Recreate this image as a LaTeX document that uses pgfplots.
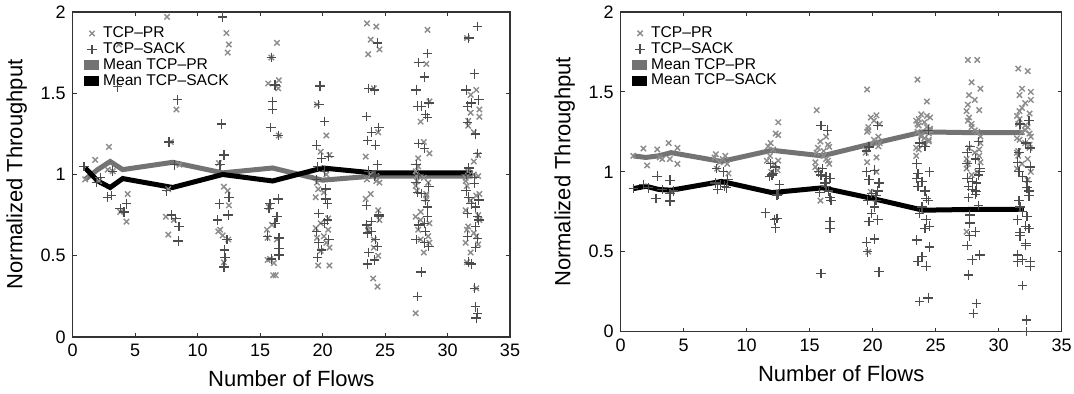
\documentclass[border=0pt]{standalone}
\usepackage{pgfplots}
\pgfplotsset{compat=1.18}
\usepackage{fontspec}
\setmainfont{Liberation Sans}
\begin{document}
\begin{tikzpicture}
\useasboundingbox (0,0) rectangle (537pt,197pt);
\pgfplotsset{
 myaxis/.style={
  scale only axis, anchor=south west,
  xmin=0,xmax=35,ymin=0,ymax=2,
  xtick={0,5,...,35}, ytick={0,0.5,1,1.5,2},
  tick align=inside, major tick length=2pt,
  axis line style={black!80, line width=0.6pt},
  tick style={black!80, line width=0.5pt},
  ticklabel style={font=\fontsize{9}{10}\selectfont},
  /pgf/number format/assume math mode=true,
  xlabel={Number of Flows}, ylabel={Normalized Throughput},
  label style={font=\fontsize{11}{12}\selectfont},
  legend style={at={(0.02,0.975)}, anchor=north west, draw=none, fill=none, font=\fontsize{7.8}{8}\selectfont, row sep=-3pt, inner sep=1pt},
  legend cell align=left,
 },
 prmark/.style={only marks, mark=x, mark size=1.9pt, black!45, mark options={line width=0.7pt},
   legend image code/.code={\draw[##1] plot coordinates {(0.1cm,0cm)};}},
 sackmark/.style={only marks, mark=+, mark size=2.4pt, black!70, mark options={line width=0.65pt},
   legend image code/.code={\draw[##1] plot coordinates {(0.1cm,0cm)};}},
 prline/.style={black!55, line width=2.5pt, no marks,
   legend image code/.code={\fill[black!55] (0cm,-1.3pt) rectangle (0.18cm,1.3pt);}},
 sackline/.style={black, line width=2.5pt, no marks,
   legend image code/.code={\fill[black] (0cm,-1.3pt) rectangle (0.18cm,1.3pt);}},
}
% ---------------- Left panel ----------------
\begin{axis}[myaxis, at={(36.35pt,28.5pt)}, width=218.65pt, height=162.5pt]
\addplot[prmark] coordinates {
(1.0,0.97)
(1.8,1.09)(2.1,0.96)
(2.9,1.17)(3.2,1.02)(2.8,1.03)
(3.7,1.80)(4.4,0.88)(3.8,0.77)(4.3,0.71)
(7.55,1.97)(8.30,1.40)(7.85,1.20)(8.55,1.06)(7.65,0.91)(8.10,0.72)(7.65,0.63)(7.45,0.74)
(12.3,1.87)(12.5,1.80)(12.4,1.75)(11.7,1.07)(12.1,0.925)(12.4,0.90)(12.5,0.81)(11.8,0.66)(12.45,0.60)(12.1,0.46)(11.65,0.65)(12.0,0.625)
(16.35,1.81)(15.9,1.72)(16.5,1.58)(15.65,1.56)(16.45,1.53)(16.5,1.24)(15.7,0.80)(15.95,0.69)(15.6,0.61)(16.35,0.60)(15.6,0.474)(15.8,0.48)(16.1,0.455)(16.05,0.38)(16.25,0.38)(15.55,0.66)
(19.55,1.43)(20.30,1.24)(19.85,1.14)(20.55,1.12)(19.65,0.91)(20.10,0.89)(20.45,0.73)(19.45,0.67)(19.55,0.61)(20.30,0.58)(19.85,0.53)(20.55,0.44)(19.65,0.44)(20.10,0.62)(20.45,0.66)(19.45,0.86)(19.55,0.95)(20.30,1.00)(19.85,0.70)(20.55,0.55)
(23.55,1.93)(24.30,1.91)(23.85,1.83)(24.55,1.77)(23.65,1.74)(24.10,1.53)(24.45,1.26)(23.45,1.11)(23.55,0.97)(24.30,0.96)(23.85,0.88)(24.55,0.72)(23.65,0.68)(24.10,0.60)(24.45,0.50)(24.05,0.36)(24.40,0.31)(24.30,0.99)(23.85,1.00)(24.55,0.95)(23.65,0.66)(24.10,0.55)(24.45,0.78)(23.45,0.85)
(28.40,1.89)(28.30,1.68)(27.85,1.325)(28.55,1.13)(27.65,1.10)(28.10,0.98)(28.45,0.95)(27.45,0.93)(27.55,0.90)(28.30,0.87)(27.85,0.77)(28.55,0.70)(27.65,0.66)(28.10,0.52)(27.45,0.146)(27.45,1.02)(27.55,0.99)(28.30,0.85)(27.85,0.60)(28.55,0.58)(27.65,1.05)(28.10,1.20)(28.45,0.62)(27.45,0.74)(27.55,0.96)(28.30,0.88)(27.85,0.72)(28.55,1.45)
(31.55,1.84)(32.30,1.52)(31.85,1.49)(32.55,1.355)(31.65,1.33)(32.10,1.26)(32.45,1.12)(31.45,0.96)(31.55,0.93)(32.30,0.87)(31.85,0.84)(32.55,0.72)(31.65,0.68)(32.10,0.64)(32.45,0.57)(31.45,0.58)(31.55,0.46)(32.30,0.30)(31.85,1.38)(32.55,1.40)(31.65,1.02)(32.10,1.00)(32.45,0.99)(31.45,0.78)(31.55,0.66)(32.30,0.62)(31.85,0.52)(32.55,0.88)(31.65,1.30)(32.10,1.08)(32.45,0.75)(31.45,0.98)
};
\addlegendentry{TCP--PR}
\addplot[sackmark] coordinates {
(0.9,1.05)
(2.2,0.98)(1.9,0.95)
(3.1,0.87)(2.8,0.86)(3.2,1.02)
(3.6,1.54)(4.3,0.82)(3.8,0.79)(4.1,0.77)
(8.40,1.46)(7.70,1.20)(8.15,1.06)(7.50,0.90)(8.50,0.68)(7.90,0.75)(8.45,0.59)(8.25,0.73)
(12.0,1.97)(11.9,1.31)(12.1,1.12)(11.8,1.06)(11.75,0.82)(12.5,0.86)(12.45,0.75)(11.6,0.72)(12.35,0.60)(12.15,0.535)(12.2,0.49)(12.1,0.43)
(15.9,1.72)(16.2,1.55)(16.0,1.45)(16.0,1.40)(15.85,1.29)(16.45,1.24)(16.45,0.85)(15.8,0.82)(16.35,0.74)(16.5,0.61)(15.6,0.62)(16.5,0.546)(16.5,0.505)(15.9,0.48)(16.2,0.70)(15.7,0.79)
(19.80,1.545)(19.70,1.43)(20.15,1.325)(19.50,1.18)(20.50,1.11)(19.90,1.10)(19.60,1.05)(20.25,0.91)(20.40,0.82)(19.70,0.76)(20.15,0.70)(19.50,0.65)(20.50,0.60)(19.90,0.535)(19.60,0.49)(20.25,0.85)(20.40,0.72)(19.70,0.58)(20.15,1.02)(19.50,0.97)
(24.40,1.81)(23.70,1.53)(24.15,1.52)(23.50,1.356)(24.50,1.29)(23.90,1.26)(23.60,1.21)(24.25,1.18)(24.40,1.06)(23.70,1.02)(24.15,0.99)(23.50,0.81)(24.50,0.74)(23.90,0.71)(23.60,0.64)(24.25,0.60)(24.40,0.556)(23.70,0.52)(24.15,0.474)(23.50,0.69)(24.50,0.75)(23.90,0.65)(23.60,0.45)(24.25,1.00)
(28.40,1.745)(27.70,1.69)(28.15,1.60)(27.50,1.52)(28.50,1.44)(27.90,1.42)(27.60,1.42)(28.25,1.37)(28.40,1.35)(27.70,1.19)(28.15,1.16)(27.50,1.06)(28.50,0.925)(27.90,0.884)(27.60,0.89)(28.25,0.84)(28.40,0.74)(27.70,0.69)(28.15,0.70)(27.50,0.60)(28.50,0.556)(27.90,0.40)(27.60,0.25)(28.25,0.65)(28.40,0.80)(27.70,1.00)(28.15,0.58)(27.50,0.95)
(32.40,1.91)(31.70,1.84)(32.15,1.62)(31.50,1.52)(32.50,1.46)(31.90,1.44)(31.60,1.42)(32.25,1.25)(32.40,1.13)(31.70,1.04)(32.15,0.946)(31.50,0.90)(32.50,0.843)(31.90,0.82)(31.60,0.76)(32.25,0.68)(32.40,0.607)(31.70,0.46)(32.15,0.30)(32.25,0.186)(32.40,0.146)(32.30,0.116)(31.60,0.62)(32.25,0.55)(32.40,0.74)(31.70,0.86)(32.15,0.98)(31.50,1.00)(32.50,0.72)(31.90,0.45)(31.60,1.32)(32.25,0.80)
};
\addlegendentry{TCP--SACK}
\addplot[prline] coordinates {(1,0.97)(2,1.03)(3,1.08)(4,1.03)(8,1.075)(12,1.01)(16,1.04)(20,0.965)(24,0.99)(28,0.99)(32,0.99)};
\addlegendentry{Mean TCP--PR}
\addplot[sackline] coordinates {(1,1.04)(2,0.96)(3,0.92)(4,0.975)(8,0.92)(12,1.0)(16,0.96)(20,1.04)(24,1.01)(28,1.01)(32,1.01)};
\addlegendentry{Mean TCP--SACK}
\end{axis}
% ---------------- Right panel ----------------
\begin{axis}[myaxis, at={(310.35pt,31.15pt)}, width=220.5pt, height=159.85pt]
\addplot[prmark] coordinates {
(1.0,1.10)
(1.8,1.146)(2.1,1.04)
(2.9,1.14)(3.3,1.08)(3.1,1.09)
(3.8,1.18)(4.5,1.15)(3.9,1.08)(4.5,1.05)
(7.55,1.11)(8.30,1.10)(7.85,1.06)(8.55,0.99)(7.65,1.02)(8.10,1.08)(8.45,1.05)(7.45,1.09)
(12.5,1.31)(12.5,1.23)(12.3,1.24)(11.9,1.18)(12.1,1.14)(11.6,1.07)(12.5,1.07)(11.85,1.10)(12.45,1.01)(11.95,1.00)(12.2,1.05)(11.7,1.16)
(15.55,1.386)(16.30,1.22)(15.85,1.19)(16.55,1.156)(15.65,1.15)(16.10,1.10)(16.45,1.07)(15.45,1.03)(15.55,1.12)(16.30,1.08)(15.85,0.82)(16.55,1.05)(15.65,1.01)(16.10,1.13)(16.45,1.17)(15.45,1.06)
(19.55,1.515)(20.30,1.354)(19.85,1.34)(20.55,1.30)(19.65,1.26)(20.10,1.20)(20.45,1.16)(19.45,1.12)(19.55,1.06)(20.30,1.00)(19.85,0.875)(19.65,0.50)(19.65,1.28)(20.10,1.32)(20.45,1.22)(19.45,1.14)(19.55,1.25)(20.30,1.09)(19.85,1.17)(20.55,1.18)
(23.55,1.577)(24.30,1.44)(23.85,1.36)(24.55,1.34)(23.65,1.29)(24.10,1.31)(24.45,1.20)(23.45,1.10)(23.55,1.25)(24.30,1.28)(23.85,1.22)(24.55,1.27)(23.65,1.33)(24.10,1.18)(24.45,1.24)(23.45,1.15)(23.55,1.30)(24.30,1.35)(23.85,1.23)(24.55,1.26)(23.65,1.14)(24.10,1.21)(24.45,1.19)(23.45,1.32)
(27.55,1.70)(28.30,1.70)(27.85,1.56)(28.55,1.52)(27.65,1.48)(28.10,1.45)(28.45,1.386)(27.45,1.38)(27.55,1.32)(28.30,1.25)(27.85,1.30)(28.55,1.22)(27.65,1.15)(28.10,1.12)(28.45,1.10)(27.45,1.08)(27.55,1.05)(27.45,0.625)(27.85,1.28)(28.55,1.18)(27.65,1.34)(28.10,1.26)(28.45,1.14)(27.45,1.02)(27.55,1.42)(28.30,1.00)(27.85,0.98)(28.55,1.06)
(31.55,1.646)(32.30,1.63)(31.85,1.52)(32.55,1.50)(31.65,1.48)(32.10,1.43)(32.45,1.365)(31.45,1.35)(31.55,1.30)(32.30,1.28)(31.85,1.25)(32.55,1.22)(31.65,1.20)(32.10,1.18)(32.45,1.15)(31.45,1.12)(31.55,1.10)(32.30,0.95)(31.85,1.40)(32.55,1.45)(31.65,1.33)(32.10,1.26)(32.45,1.24)(31.45,1.21)(31.55,1.13)(32.30,1.08)(31.85,1.05)(32.55,1.00)(31.65,1.38)(32.10,1.29)(32.45,1.17)(31.45,1.02)
};
\addlegendentry{TCP--PR}
\addplot[sackmark] coordinates {
(1.0,0.896)
(1.8,0.92)(2.2,0.90)
(2.9,0.973)(2.8,0.834)(3.3,0.89)
(3.9,0.948)(3.9,0.865)(3.9,0.817)(4.2,0.88)
(8.40,0.90)(7.70,0.89)(8.15,1.00)(7.50,0.93)(8.50,0.95)(7.90,0.92)(7.60,1.02)(8.25,0.91)
(12.1,0.99)(11.8,0.97)(12.3,1.03)(12.6,0.92)(12.4,0.855)(11.5,0.744)(12.4,0.709)(12.3,0.65)(11.9,1.05)(12.0,0.98)(12.5,0.86)(12.2,0.70)
(15.9,1.29)(16.4,1.26)(16.0,1.02)(15.9,0.98)(16.6,0.96)(16.6,0.84)(16.6,0.69)(16.6,0.646)(15.9,0.365)(16.5,0.88)(16.3,0.97)(16.7,0.82)(15.7,1.00)(16.2,0.93)(15.8,0.87)(16.3,0.91)
(20.40,1.29)(19.70,1.156)(20.15,1.01)(19.50,1.00)(20.50,0.93)(19.90,0.865)(19.60,0.82)(20.25,0.82)(20.40,0.70)(19.70,0.69)(20.15,0.58)(19.50,0.56)(20.50,0.375)(19.90,0.74)(19.60,0.50)(20.25,0.85)(20.40,0.88)(19.70,0.95)(20.15,0.78)(19.50,1.13)
(24.40,1.26)(23.70,1.18)(24.15,1.16)(23.50,1.05)(24.50,1.00)(23.90,0.94)(23.60,0.91)(24.25,0.834)(24.40,0.82)(23.70,0.74)(24.15,0.646)(23.50,0.573)(24.50,0.53)(23.90,0.47)(23.60,0.44)(24.25,0.41)(24.40,0.21)(23.70,0.19)(24.15,0.88)(23.50,0.96)(24.50,0.66)(23.90,0.78)(23.60,0.99)(24.25,0.70)
(28.40,1.19)(27.70,1.16)(28.15,1.08)(27.50,1.05)(28.50,1.00)(27.90,0.94)(27.60,0.91)(28.25,0.875)(28.40,0.79)(27.70,0.73)(28.15,0.625)(27.50,0.54)(28.50,0.48)(27.90,0.45)(27.60,0.354)(28.25,0.177)(28.00,0.115)(27.70,0.68)(28.15,0.86)(27.50,0.96)(28.50,1.02)(27.90,0.89)(27.60,0.84)(28.25,0.93)(28.40,0.98)(27.70,0.60)(28.15,0.88)(27.50,1.12)
(32.40,1.32)(31.70,1.30)(32.15,1.18)(31.50,1.06)(32.50,1.03)(31.90,0.97)(31.60,0.82)(32.25,0.72)(32.40,0.646)(31.70,0.60)(32.15,0.54)(31.50,0.437)(32.50,0.41)(31.90,0.29)(32.20,0.073)(32.20,0.0)(31.60,1.12)(32.25,0.90)(32.40,0.88)(31.70,0.78)(32.15,0.66)(31.50,0.70)(32.50,0.44)(31.90,0.45)(31.60,1.00)(32.25,0.94)(32.40,0.85)(31.70,0.62)(32.15,0.55)(31.50,0.48)(32.50,1.15)(31.90,0.75)
};
\addlegendentry{TCP--SACK}
\addplot[prline] coordinates {(1,1.10)(2,1.09)(3,1.10)(4,1.12)(8,1.065)(12,1.135)(16,1.10)(20,1.177)(24,1.25)(28,1.245)(32,1.245)};
\addlegendentry{Mean TCP--PR}
\addplot[sackline] coordinates {(1,0.895)(2,0.91)(3,0.89)(4,0.885)(8,0.94)(12,0.87)(16,0.90)(20,0.833)(24,0.76)(28,0.765)(32,0.765)};
\addlegendentry{Mean TCP--SACK}
\end{axis}
\end{tikzpicture}
\end{document}
